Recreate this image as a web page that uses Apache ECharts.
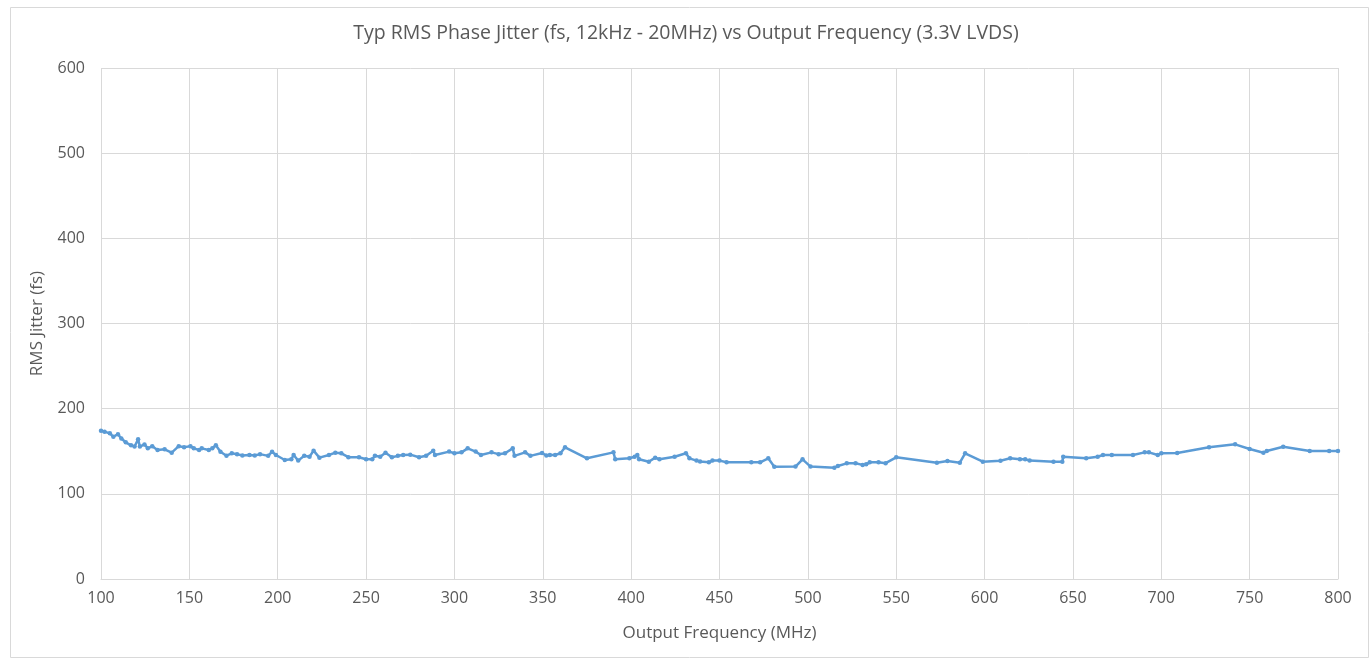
<!DOCTYPE html>
<html><head><meta charset="utf-8">
<script src="https://cdn.jsdelivr.net/npm/echarts@6/dist/echarts.min.js"></script>
<style>html,body{margin:0;padding:0;background:#fff;}#c{width:1372px;height:658px;}</style>
</head><body><div id="c"></div>
<script>
const titleText = "Typ RMS Phase Jitter (fs, 12kHz - 20MHz) vs Output Frequency (3.3V LVDS)";
const xAxisName = "Output Frequency (MHz)";
const yAxisName = "RMS Jitter (fs)";
const freqMHz = [100,102,105,107,109.6,111.5,114,117,119,121,122,124.6,126.5,129,132,136,140,144,147,150.6,152.5,155.5,157,161,163,165,167.6,171,174,177,180,184,187,190,194.6,196.8,199,204,207.7,209,211.6,215,218,220.3,223.6,229,232.6,236,240,246,250,253.5,255,258,261,264.6,268,271,275,280,284,288,289,297,300,304,307.5,312,315,321,325,328.6,333,334,340,343,349.6,352,354,357,360,362.6,375,390,391,399,402,403.5,404.5,410,413.6,416,424.6,431,433,437,439,444,446,450,454,468,473,477.6,481,493,497,501.5,515,517,522,527,531,533,535,540,544,550,573,579,586,589,599,609,614.5,620,623,625.5,639,644,644.5,657.5,664,667,672,684,690.6,693,698,700,709,727,741.8,750,757.8,759.7,769,784,795,800];
const jitterFs = [174,173,171,167,170,165,160.5,157,155.5,164,155.5,158,153.4,156,151.5,152.3,148.3,156,154.6,156,153.4,151.5,153.4,151.5,153.4,157,149.5,144.8,147.6,146.6,145,145.6,145,146.6,144.6,149.5,145.6,139.7,140.6,145.6,139,144.6,143.6,150.7,142.5,145.6,148.3,147.6,143,143,140.6,140.6,144.6,143.6,148.3,143,144.6,145.6,146,142.9,144.6,150.7,145.6,149.6,147.6,148.7,153.4,149.6,145.6,148.7,146.6,147.6,153.4,144.6,148.7,144.6,148,145,145.6,145.6,147.6,154.6,141.7,148.7,140.6,141.7,143.6,145.6,140.6,137.7,142.5,140.6,143.6,147.6,141.7,139,138,137,139,139,137,137,137,141.7,131.9,132,140.5,132,130.7,132.7,135.8,136,134,134.6,137,137,136,142.9,136.6,138.5,136.6,147.6,137.7,138.9,141.7,140.6,140.6,139,137.7,137.7,143.6,141.7,143.6,145.6,145.6,145.6,148.7,148.7,145.6,147.6,148,154.6,158.1,152.6,148.3,150.3,155.3,150.3,150.3,150.3];
const xTicks = {min:100, max:800, interval:50};
const yTicks = {min:0, max:600, interval:100};

const data = freqMHz.map((f,i)=>[f, jitterFs[i]]);
const chart = echarts.init(document.getElementById('c'));
const txt = '#595959';
const ff = 'Open Sans';
chart.setOption({
  animation:false,
  graphic:[{type:'rect', left:8, top:5, shape:{width:1358, height:650}, style:{fill:'none', stroke:'#d9d9d9', lineWidth:1}, silent:true, z:-1}],
  title:{text:titleText, left:'center', top:18, textStyle:{fontFamily:ff, fontSize:19.5, fontWeight:'normal', color:txt}},
  grid:{left:101, right:34, top:68, bottom:79},
  xAxis:{type:'value', min:xTicks.min, max:xTicks.max, interval:xTicks.interval,
    name:xAxisName, nameLocation:'middle', nameGap:46, nameTextStyle:{fontFamily:ff, fontSize:17, color:txt},
    axisLine:{show:true, lineStyle:{color:'#d9d9d9'}}, axisTick:{show:false},
    axisLabel:{fontFamily:ff, fontSize:16, color:txt, margin:11},
    splitLine:{show:true, lineStyle:{color:'#d9d9d9'}}},
  yAxis:{type:'value', min:yTicks.min, max:yTicks.max, interval:yTicks.interval,
    name:yAxisName, nameLocation:'middle', nameGap:55, nameTextStyle:{fontFamily:ff, fontSize:17, color:txt},
    axisLine:{show:false}, axisTick:{show:false},
    axisLabel:{fontFamily:ff, fontSize:16, color:txt, margin:16},
    splitLine:{show:true, lineStyle:{color:'#d9d9d9'}}},
  series:[{type:'line', data:data, symbol:'circle', symbolSize:4.5, showSymbol:true,
    lineStyle:{color:'#5b9bd5', width:2.5}, itemStyle:{color:'#5b9bd5'}}]
});
</script></body></html>
